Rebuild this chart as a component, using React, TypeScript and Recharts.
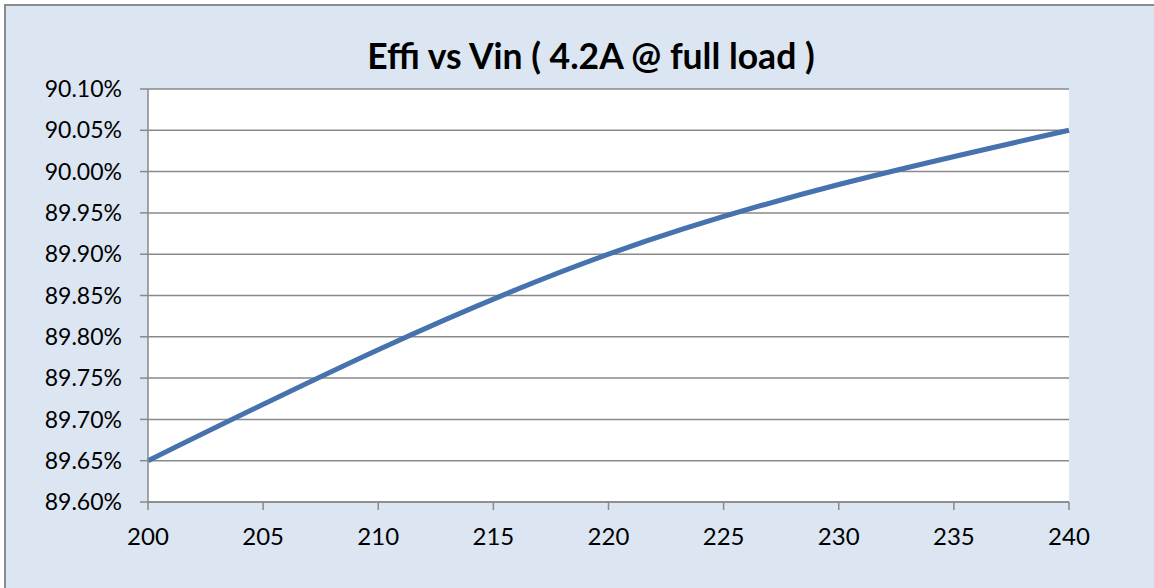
import React from 'react';
import { LineChart, Line, XAxis, YAxis, CartesianGrid } from 'recharts';

const vin = [200, 220, 240];
const effi = [89.65, 89.9, 90.05];
const xTicks = [200, 205, 210, 215, 220, 225, 230, 235, 240];
const yTicks = [89.6, 89.65, 89.7, 89.75, 89.8, 89.85, 89.9, 89.95, 90.0, 90.05, 90.1];
const title = 'Effi vs Vin ( 4.2A @ full load )';

const data = vin.map((v, i) => ({ vin: v, effi: effi[i] }));

const font = 'Lato, "Open Sans", sans-serif';
const axisColor = '#898989';

export default function App() {
  return (
    <div style={{ position: 'absolute', left: 0, top: 0, width: 1154, height: 588, overflow: 'hidden', background: '#ffffff' }}>
      <div style={{ position: 'absolute', left: 4, top: 4, width: 1200, height: 700, background: '#dce6f2', border: '2px solid #8c8c8c' }} />
      <div style={{ position: 'absolute', left: 0, top: 35, width: 1182, textAlign: 'center', fontFamily: font, fontWeight: 700, fontSize: 35.5, lineHeight: '42px', color: '#000' }}>
        {title}
      </div>
      <div style={{ position: 'absolute', left: 0, top: 0 }}>
        <LineChart width={1154} height={588} data={data} margin={{ top: 89, right: 85, bottom: 0, left: 0 }}>
          <CartesianGrid vertical={false} stroke={axisColor} strokeWidth={1.5} fill="#ffffff" fillOpacity={1} />
          <XAxis
            dataKey="vin"
            type="number"
            domain={[200, 240]}
            ticks={xTicks}
            height={86}
            tickSize={8}
            tickMargin={18}
            stroke={axisColor}
            strokeWidth={1.5}
            tick={{ fill: '#000', fontSize: 24, fontFamily: font }}
            interval={0}
          />
          <YAxis
            type="number"
            domain={[89.6, 90.1]}
            ticks={yTicks}
            width={148}
            tickSize={8}
            tickMargin={18}
            stroke={axisColor}
            strokeWidth={1.5}
            tick={{ fill: '#000', fontSize: 23, fontFamily: font }}
            tickFormatter={(v: number) => v.toFixed(2) + '%'}
            interval={0}
            allowDataOverflow
          />
          <Line
            type="monotone"
            dataKey="effi"
            stroke="#4672ae"
            strokeWidth={5}
            dot={false}
            isAnimationActive={false}
          />
        </LineChart>
      </div>
    </div>
  );
}
